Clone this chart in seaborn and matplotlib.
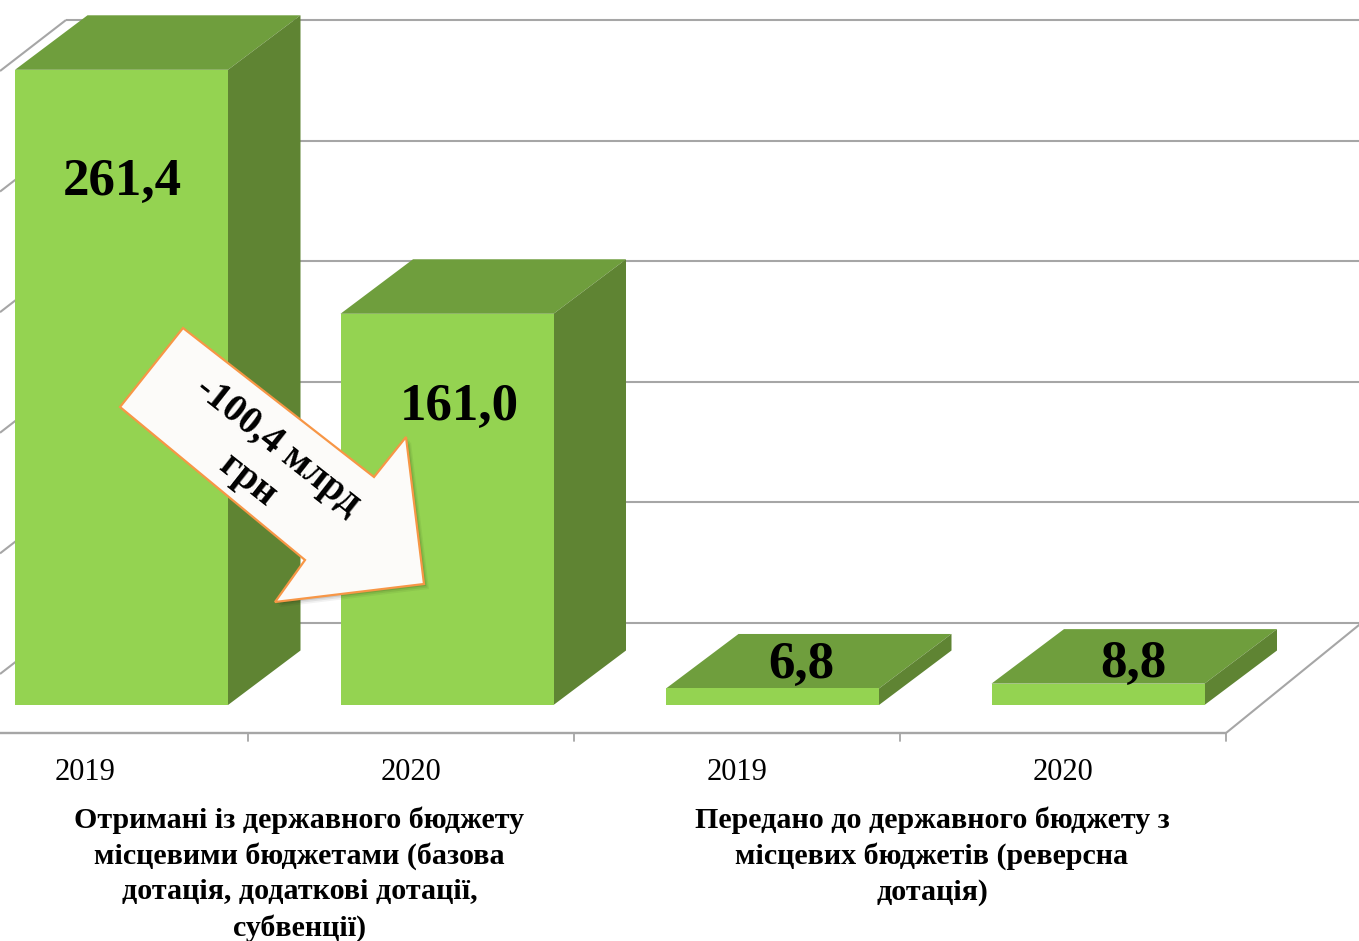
import matplotlib
matplotlib.use("Agg")
import matplotlib.pyplot as plt
import seaborn as sns
import pandas as pd
from matplotlib.patches import Polygon

# ---- data ----
groups = ["Отримані", "Отримані", "Передано", "Передано"]
years = ["2019", "2020", "2019", "2020"]
values = [261.4, 161.0, 6.8, 8.8]
value_labels = ["261,4", "161,0", "6,8", "8,8"]
grid_values = [0, 50, 100, 150, 200, 250]
group_lines = [
    ["Отримані із державного бюджету", "місцевими бюджетами (базова",
     "дотація, додаткові дотації,", "субвенції)"],
    ["Передано до державного бюджету з", "місцевих бюджетів (реверсна", "дотація)"],
]
callout_lines = ["-100,4 млрд", "грн"]

# ---- style ----
W, H = 1359, 941
FRONT, TOP, SIDE = "#94D351", "#6F9E3D", "#5F8433"
GRID = "#A6A6A6"
SERIF = "Liberation Serif"
SLOT = 325.5            # px per category
PX_PER_UNIT = 2.43      # px per value unit at the bars
X0, Y0 = 121.5, 705     # first category centre, bar base

sns.set_theme(style="white", rc={"font.family": SERIF})
fig = plt.figure(figsize=(W / 100, H / 100), dpi=100, facecolor="white")


def full_axes(z):
    a = fig.add_axes([0, 0, 1, 1], zorder=z)
    a.patch.set_alpha(0)
    return a


# ---- back walls / floor, in pixel coordinates ----
bg = full_axes(0)
bg.set_xlim(0, W)
bg.set_ylim(H, 0)
bg.set_axis_off()
WALL_Y0, WALL_STEP = 623, 120.6 / 50
for v in grid_values:
    y = WALL_Y0 - v * WALL_STEP
    bg.plot([66, W], [y, y], color=GRID, lw=1.5, solid_capstyle="butt")
    bg.plot([0, 66], [y + 51, y], color=GRID, lw=1.5, solid_capstyle="butt")
bg.plot([0, 1226], [733, 733], color=GRID, lw=1.7, solid_capstyle="butt")
bg.plot([1226, W], [733, 625], color=GRID, lw=1.5)
for i in range(1, 5):
    tx = 248 + (i - 1) * 326
    bg.plot([tx, tx], [733, 741], color=GRID, lw=1.3)

# ---- bars, through seaborn ----
ax = full_axes(1)
df = pd.DataFrame({"slot": [f"{g} {y}" for g, y in zip(groups, years)], "value": values})
sns.barplot(data=df, x="slot", y="value", color=FRONT, saturation=1, width=213 / SLOT,
            edgecolor="none", linewidth=0, ax=ax, zorder=3)
ax.set_xlim(-X0 / SLOT, (W - X0) / SLOT)
ax.set_ylim((Y0 - H) / PX_PER_UNIT, Y0 / PX_PER_UNIT)
ax.set_axis_off()

DX, DY = 72.5 / SLOT, 54.5 / PX_PER_UNIT
for p in list(ax.patches):
    x0, w, h = p.get_x(), p.get_width(), p.get_height()
    x1 = x0 + w
    ax.add_patch(Polygon([(x0, h), (x1, h), (x1 + DX, h + DY), (x0 + DX, h + DY)],
                         fc=TOP, ec="none", zorder=2))
    ax.add_patch(Polygon([(x1, 0), (x1 + DX, DY), (x1 + DX, h + DY), (x1, h)],
                         fc=SIDE, ec="none", zorder=2))

# ---- text and callout, in pixel coordinates ----
fg = full_axes(2)
fg.set_xlim(0, W)
fg.set_ylim(H, 0)
fg.set_axis_off()

label_pos = [(122, 182), (459, 407), (801, 665), (1133, 664)]
for s, (x, y) in zip(value_labels, label_pos):
    fg.text(x, y, s, ha="center", va="center", fontsize=38.2, fontweight="bold",
            family=SERIF, color="black")

for i, yr in enumerate(years):
    fg.text(85.5 + i * 325.7, 772, yr, ha="center", va="center", fontsize=22,
            family=SERIF, color="black")

for cx, lines in zip([299.5, 932], group_lines):
    for j, s in enumerate(lines):
        fg.text(cx, 820 + j * 36.0, s, ha="center", va="center", fontsize=21.6,
                fontweight="bold", family=SERIF, color="black")

arrow = [(183, 328), (374, 477), (406, 437), (424, 584), (275, 602), (305, 560), (120, 407)]
for off, al in [(5, 0.05), (3.5, 0.07), (2, 0.10)]:
    fg.add_patch(Polygon([(x + off, y + off) for x, y in arrow], fc="#000000", alpha=al, ec="none"))
fg.add_patch(Polygon(arrow, fc="#FCFBF9", ec="#F79646", lw=1.6, joinstyle="miter"))
for s, (x, y) in zip(callout_lines, [(278, 446), (248, 481)]):
    fg.text(x, y, s, ha="center", va="center", rotation=-38.3, rotation_mode="anchor",
            fontsize=28, fontweight="bold", family=SERIF, color="black")

fig.savefig("out.png", dpi=100)
